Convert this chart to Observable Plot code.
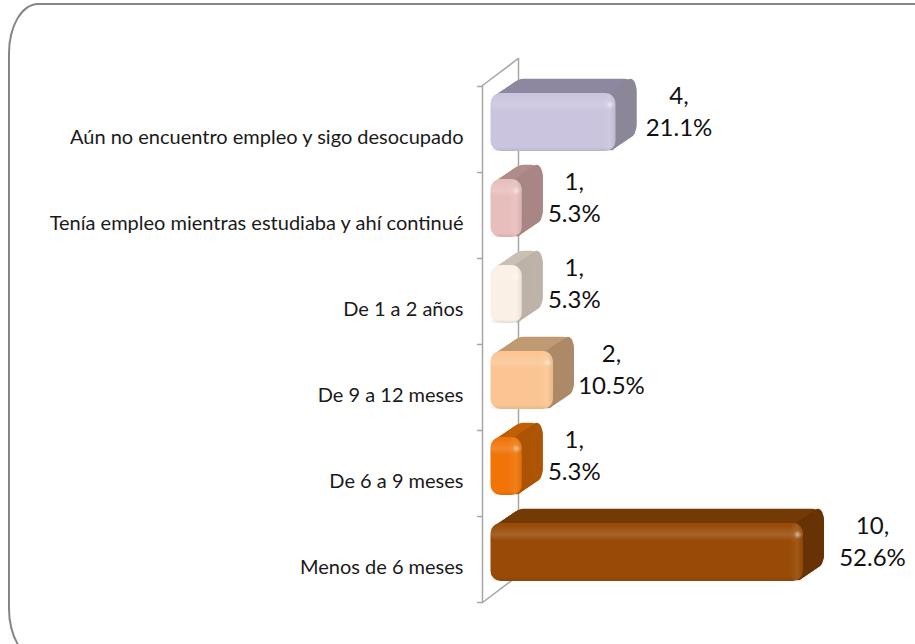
<!DOCTYPE html>
<html>
<head>
<meta charset="utf-8">
<script src="https://cdn.jsdelivr.net/npm/d3@7"></script>
<script src="https://cdn.jsdelivr.net/npm/@observablehq/plot@0.6"></script>
<style>
html,body{margin:0;padding:0;background:#fff;overflow:hidden}
#wrap{position:relative;width:915px;height:644px;overflow:hidden}
#frame{position:absolute;left:8px;top:3px;width:940px;height:656px;box-sizing:border-box;border:2px solid #868686;border-radius:30px / 50px}
#wrap svg{position:absolute;left:0;top:0;background:transparent}
</style>
</head>
<body>
<div id="wrap"><div id="frame"></div></div>
<script>
const categories = ["Aún no encuentro empleo y sigo desocupado","Tenía empleo mientras estudiaba y ahí continué","De 1 a 2 años","De 9 a 12 meses","De 6 a 9 meses","Menos de 6 meses"];
const counts = [4,1,1,2,1,10];
const percents = ["21.1%","5.3%","5.3%","10.5%","5.3%","52.6%"];
const frontColors = ["#cbc4de","#e8bebd","#fbf0e6","#fbc593","#f07408","#984a06"];
const topColors = ["#8d88a0","#b08c8b","#c9bfb2","#c09a72","#c05f05","#743a05"];
const sideColors = ["#8b8799","#a98685","#bdb3a8","#ad8a67","#ad5405","#673305"];
const axisGrey = "#a6a6a6";

const rows = categories.map((category,i)=>({category,count:counts[i],percent:percents[i],label:counts[i]+",\n"+percents[i],front:frontColors[i],top:topColors[i],side:sideColors[i]}));

const depth = d3.range(1,22);
const y = d=>d.category;
const inset = {insetTop:14,insetBottom:14};
const labelDx = n => n.percent.length===4 ? 52 : n.count===10 ? 69 : n.count===4 ? 63 : 58;
const lineShape = {draw(c,l){c.moveTo(0,0);c.lineTo(0,-l);}};

const plot = Plot.plot({
  width:915,height:644,
  marginLeft:490,marginRight:112,marginTop:78,marginBottom:49,
  style:{background:"transparent"},
  x:{domain:[0,10],range:[490.5,803],axis:null},
  y:{domain:categories,padding:0,label:null,range:[78,595]},
  marks:[
    Plot.ruleX([0],{dx:-8.5,dy:7,stroke:axisGrey,strokeWidth:1.5}),
    Plot.ruleX([0],{dx:27.5,dy:-20,stroke:axisGrey,strokeWidth:1.5}),
    Plot.vector([0],{frameAnchor:"top-left",dx:-8,dy:7,length:45,rotate:53,anchor:"start",shape:lineShape,stroke:axisGrey,strokeWidth:1.5}),
    Plot.vector([0],{frameAnchor:"bottom-left",dx:-8,dy:7,length:45,rotate:53,anchor:"start",shape:lineShape,stroke:axisGrey,strokeWidth:1.5}),
    Plot.ruleY(categories,{y:d=>d,x1:0,x2:0,dx:-8.5,dy:-36,insetLeft:-5,stroke:axisGrey,strokeWidth:1.5}),
    Plot.ruleY(categories.slice(-1),{y:d=>d,x1:0,x2:0,dx:-8.5,dy:50,insetLeft:-5,stroke:axisGrey,strokeWidth:1.5}),
    Plot.axisY({anchor:"left",tickSize:0,tickPadding:27,dy:15,fontSize:20,fontFamily:"Lato",fill:"#1a1a1a",label:null}),
    ...depth.map(i=>Plot.barX(rows,{x1:0,x2:"count",y,...inset,rx:12,dx:i,dy:-i*0.68,fill:"top"})),
    ...depth.map(i=>Plot.barX(rows,{x1:"count",x2:"count",y,...inset,insetLeft:-12,rx:12,dx:i,dy:-i*0.68,fill:"side"})),
    Plot.barX(rows,{x1:0,x2:"count",y,...inset,rx:10,fill:"front"}),
    Plot.barX(rows,{x1:0,x2:"count",y,insetTop:16,insetBottom:54,rx:8,fill:"url(#topBevel)"}),
    Plot.barX(rows,{x1:"count",x2:"count",y,...inset,insetLeft:-14,rx:10,fill:"url(#sideBevel)"}),
    Plot.barX(rows,{x1:0,x2:"count",y,insetTop:68,insetBottom:14,rx:10,fill:"url(#bottomBevel)"}),
    Plot.dot(rows,{x:"count",y,dx:-6,dy:-18,r:4,fill:"url(#glint)"}),
    ...rows.map(r=>Plot.text([r],{x:"count",y,text:"label",dx:labelDx(r),dy:-13,textAnchor:"middle",fontSize:24,lineHeight:1.35,fontFamily:"Lato",fill:"#111"}))
  ]
});

const defs = d3.create("svg:defs");
function grad(id,x2,y2,stops){
  const g=defs.append("linearGradient").attr("id",id).attr("x1",0).attr("y1",0).attr("x2",x2).attr("y2",y2);
  stops.forEach(([o,c,a])=>g.append("stop").attr("offset",o).attr("stop-color",c).attr("stop-opacity",a));
}
grad("topBevel",0,1,[[0,"#fff",0.0],[0.6,"#fff",0.14],[1,"#fff",0]]);
grad("sideBevel",1,0,[[0,"#fff",0],[0.6,"#fff",0.08],[1,"#000",0.06]]);
grad("bottomBevel",0,1,[[0,"#000",0],[1,"#000",0.08]]);
const rg=defs.append("radialGradient").attr("id","glint");
rg.append("stop").attr("offset",0).attr("stop-color","#fff").attr("stop-opacity",0.5);
rg.append("stop").attr("offset",1).attr("stop-color","#fff").attr("stop-opacity",0);
plot.insertBefore(defs.node(),plot.firstChild);
document.getElementById("wrap").appendChild(plot);
</script>
</body>
</html>
